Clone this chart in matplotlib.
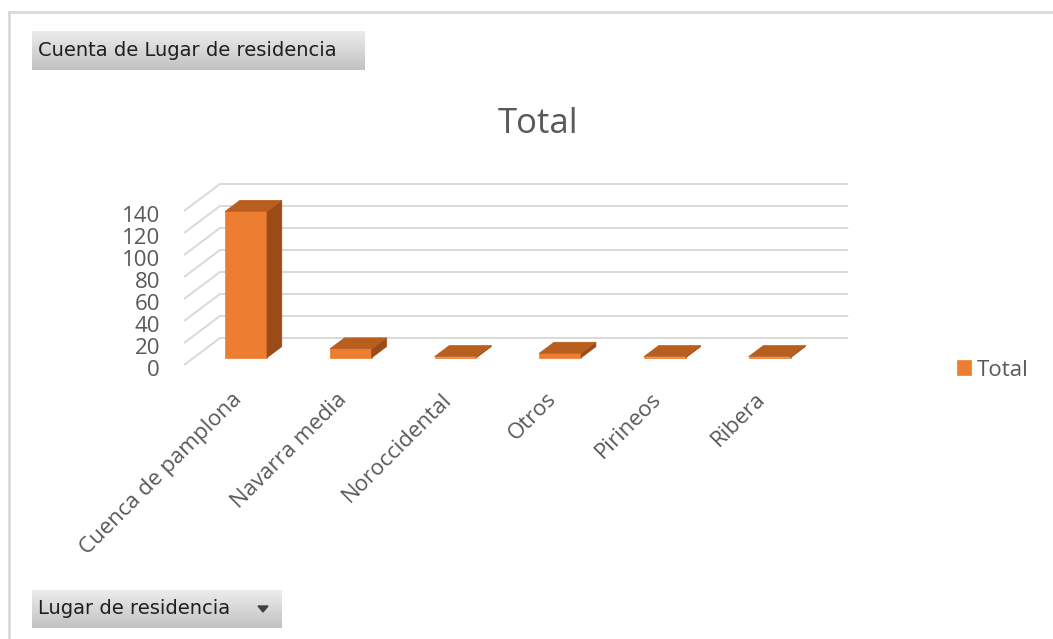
import numpy as np
import matplotlib.pyplot as plt
from matplotlib.patches import Polygon
from matplotlib.colors import LinearSegmentedColormap

plt.rcParams['font.family'] = ['Open Sans', 'DejaVu Sans']

categories = ['Cuenca de pamplona', 'Navarra media', 'Noroccidental', 'Otros', 'Pirineos', 'Ribera']
values = [133, 8, 1, 4, 1, 1]
yticks = [0, 20, 40, 60, 80, 100, 120, 140]
series_name = 'Total'
chart_title = 'Total'
value_button = 'Cuenta de Lugar de residencia'
axis_button = 'Lugar de residencia'

W, H = 1053, 639
fig = plt.figure(figsize=(W / 100, H / 100), dpi=100)

# frame + pivot field buttons, drawn in pixel coordinates
deco = fig.add_axes([0, 0, 1, 1])
deco.axis('off')
deco.plot([9, 9], [12, H], color='#d9d9d9', lw=2)
deco.plot([9, W], [12, 12], color='#d9d9d9', lw=2)

grad_cmap = LinearSegmentedColormap.from_list('btn', ['#ececec', '#c2c2c2'])
grad = np.linspace(0, 1, 64).reshape(-1, 1)


def field_button(x0, y0, x1, y1, label):
    deco.imshow(grad, extent=(x0, x1, y1, y0), cmap=grad_cmap, aspect='auto')
    deco.text(x0 + 6, (y0 + y1) / 2, label, ha='left', va='center',
              fontsize=14, color='#1f1f1f', family='DejaVu Sans')


field_button(32, 31, 365, 70, value_button)
field_button(32, 590, 282, 628, axis_button)
deco.add_patch(Polygon([(258, 606), (268, 606), (263, 612)], color='#404040'))
deco.set_xlim(0, W)
deco.set_ylim(H, 0)

fig.text(538 / W, 1 - 132.7 / H, chart_title, ha='center', va='baseline',
         fontsize=25, color='#595959')

# plot area: front plane 0 at y=365px, 1.1 px per unit, slot 104.7 px
ax = fig.add_axes([184 / W, (H - 409) / H, 680.6 / W, 231 / H])
ax.set_xlim(-0.5, 6.0)
ax.set_ylim(-40, 170)
ax.axis('off')

DX = 36 / 104.7   # depth shift in category units
DY = 27 / 1.1     # depth shift in value units
d1, d2 = 0.27, 0.68
bw = 0.4
n = len(categories)
x = np.arange(n)

for t in yticks:
    ax.plot([-0.5, -0.5 + DX, n - 0.5 + DX], [t, t + DY, t + DY],
            color='#d9d9d9', lw=1.4, zorder=1, solid_capstyle='butt')
    ax.text(-0.73, t - 5, str(t), ha='right', va='center', fontsize=16, color='#595959')

front = ax.bar(x + d1 * DX, values, width=bw, bottom=d1 * DY, color='#ED7D31',
               edgecolor='#ED7D31', lw=0.5, zorder=3, label=series_name)

for i, v in enumerate(values):
    x0, x1 = i - bw / 2, i + bw / 2
    top = [(x0 + d1 * DX, v + d1 * DY), (x1 + d1 * DX, v + d1 * DY),
           (x1 + d2 * DX, v + d2 * DY), (x0 + d2 * DX, v + d2 * DY)]
    side = [(x1 + d1 * DX, d1 * DY), (x1 + d1 * DX, v + d1 * DY),
            (x1 + d2 * DX, v + d2 * DY), (x1 + d2 * DX, d2 * DY)]
    ax.add_patch(Polygon(side, color='#9A4B18', lw=0.5, zorder=3))
    ax.add_patch(Polygon(top, color='#B85E1F', lw=0.5, zorder=3))

for i, cat in enumerate(categories):
    ax.text(i + 0.064, -31.8, cat, rotation=45, rotation_mode='anchor',
            ha='right', va='baseline', fontsize=16, color='#595959')

ax.legend(handles=[front], loc='center left', bbox_to_anchor=(957 / W, 1 - 370 / H),
          bbox_transform=fig.transFigure, frameon=False, fontsize=16,
          handlelength=0.64, handleheight=0.64, handletextpad=0.27,
          borderpad=0, borderaxespad=0, labelcolor='#595959')

fig.savefig('out.png', dpi=100)
